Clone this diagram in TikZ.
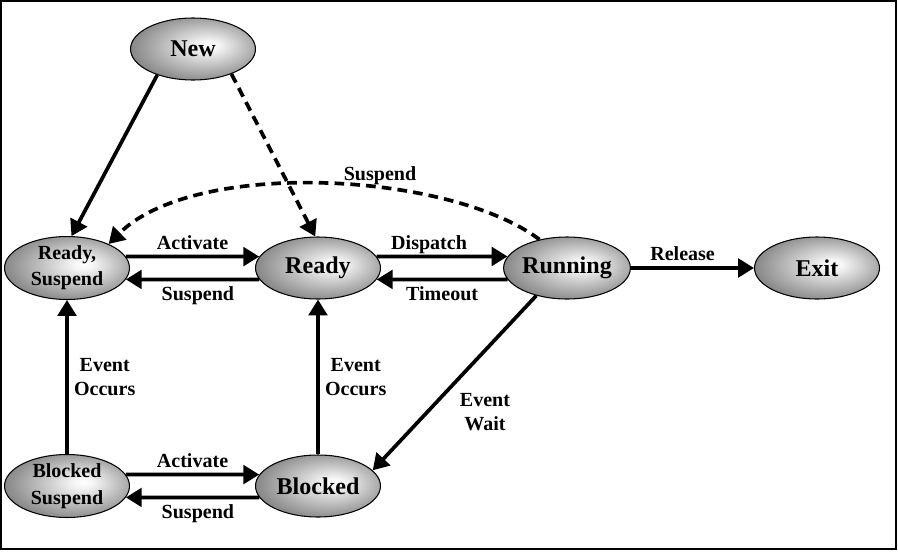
\documentclass[tikz,border=0pt]{standalone}
\usepackage{fontspec}
\setmainfont{Liberation Serif}
\usetikzlibrary{arrows.meta,shapes.geometric}

\pgfdeclareradialshading{stateglow}{\pgfpoint{7bp}{3bp}}{%
  color(0bp)=(white); color(4bp)=(white!96!black); color(28bp)=(black!47); color(50bp)=(black!47)}

\begin{document}
\begin{tikzpicture}[x=0.02cm, y=-0.02cm,
  >={Triangle[length=9pt, width=10.5pt]},
  proc/.style={ellipse, draw=black, line width=0.6pt, shading=stateglow, minimum width=2.5cm, minimum height=1.24cm, inner sep=0pt, align=center, font=\fontsize{13.7}{14}\selectfont\bfseries},
  proctwo/.style={proc, font=\fontsize{11.4}{15}\selectfont\bfseries},
  tag/.style={font=\fontsize{11.4}{13.7}\selectfont\bfseries, align=center, inner sep=3pt},
  tagup/.style={tag, above, text depth=0pt},
  flow/.style={->, line width=2.1pt},
  flowdash/.style={flow, dash pattern=on 5.5pt off 3.5pt},
]
  \useasboundingbox (0,0) rectangle (898,551);
  \draw[line width=1.2pt] (1,1) rectangle (896,549);

  % states
  \node[proc] (new) at (193,49) {New};
  \node[proctwo] (rsusp) at (67,268) {Ready,\\Suspend};
  \node[proc] (ready) at (318,268) {Ready};
  \node[proc] (run) at (567,268) {Running};
  \node[proc] (exit) at (817,268) {Exit};
  \node[proctwo] (bsusp) at (67,486) {Blocked\\Suspend};
  \node[proc] (blk) at (318,486) {Blocked};

  % transitions
  \draw[flow] (new.216) -- (rsusp.82);
  \draw[flowdash] (new.327) -- (ready.95);
  \draw[flowdash] (run.134) .. controls (450,172) and (195,158) .. (rsusp.30);
  \node[tag] (suslbl) at (380,176) {Suspend};
  \draw[flow] (rsusp.11) -- node[tagup] (actlbl) {Activate} (ready.169);
  \draw[flow] (ready.191) -- node[tag, below, pos=0.46] (suslbltwo) {Suspend} (rsusp.-11);
  \draw[flow] (ready.11) -- node[tagup, pos=0.4] (displbl) {Dispatch} (run.169);
  \draw[flow] (run.191) -- node[tag, below] (timelbl) {Timeout} (ready.-11);
  \draw[flow] (run.east) -- node[tagup, pos=0.42] (rellbl) {Release} (exit.west);
  \draw[flow] (bsusp.north) -- node[tag, right] (occlbl) {Event\\Occurs} (rsusp.south);
  \draw[flow] (blk.north) -- node[tag, right] (occlbltwo) {Event\\Occurs} (ready.south);
  \draw[flow] (run.222) -- (blk.16);
  \node[tag] (waitlbl) at (485,412) {Event\\Wait};
  \draw[flow] (bsusp.11) -- node[tagup] (actlbltwo) {Activate} (blk.169);
  \draw[flow] (blk.191) -- node[tag, below, pos=0.46] (suslblthree) {Suspend} (bsusp.-11);
\end{tikzpicture}
\end{document}
